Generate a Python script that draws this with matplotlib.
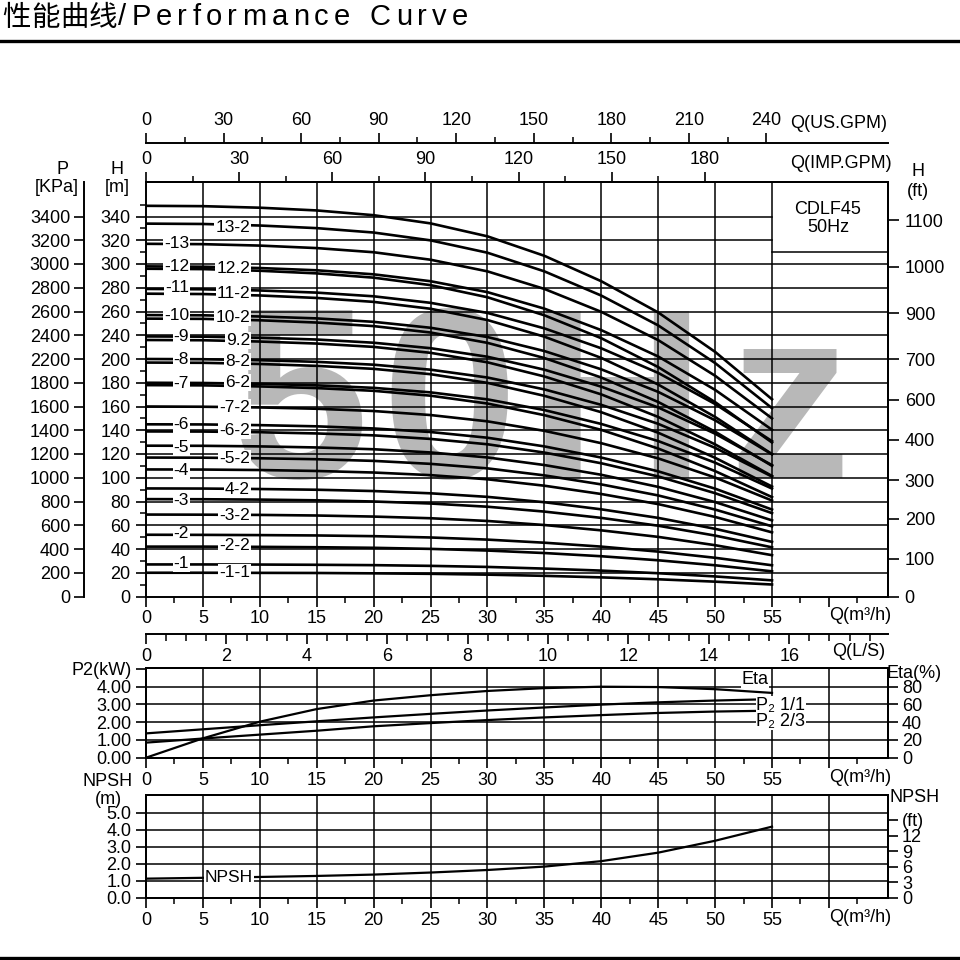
import matplotlib
matplotlib.use('Agg')
import matplotlib.pyplot as plt
from matplotlib.lines import Line2D
import numpy as np

plt.rcParams['font.family'] = ['Liberation Sans', 'DejaVu Sans']
plt.rcParams['axes.linewidth'] = 1.4

# ---------------- data (head values in chart position units of the H axis) ----------------
q_head = [0, 5, 10, 15, 20, 25, 30, 35, 40, 45, 50, 55]
h_top  = [329, 328.7, 327.4, 325.1, 321.1, 314.2, 303.3, 286.9, 265.5, 239.2, 206.0, 166.1]
h_13_2 = [314, 313.7, 312.4, 310.2, 306.5, 299.9, 289.5, 273.8, 253.4, 228.3, 196.6, 158.6]
h_13   = [297, 296.7, 295.5, 293.4, 289.9, 283.6, 273.8, 259.0, 239.7, 215.9, 185.9, 150.0]
h_12   = [278, 277.7, 276.6, 274.7, 271.3, 265.5, 256.3, 242.4, 224.3, 202.1, 174.0, 140.4]
h_12_2 = [276, 275.7, 274.3, 272.1, 268.5, 262.2, 252.0, 236.8, 217.5, 193.2, 163.7, 129.7]
h_11   = [259, 258.7, 257.7, 255.9, 252.8, 247.3, 238.8, 225.8, 209.0, 188.3, 162.1, 130.8]
h_11_2 = [255, 254.7, 253.5, 251.4, 248.1, 242.3, 232.8, 218.8, 200.9, 178.5, 151.2, 119.9]
h_10   = [237, 236.8, 235.8, 234.2, 231.3, 226.3, 218.5, 206.7, 191.3, 172.3, 148.4, 119.7]
h_10_2 = [234, 233.8, 232.6, 230.7, 227.7, 222.3, 213.6, 200.8, 184.4, 163.8, 138.8, 110.0]
h_9    = [219, 218.8, 217.9, 216.4, 213.7, 209.1, 201.9, 191.0, 176.7, 159.2, 137.1, 110.6]
h_9_2  = [216, 215.8, 214.7, 213.0, 210.2, 205.2, 197.2, 185.3, 170.2, 151.2, 128.1, 101.5]
h_8    = [200, 199.8, 199.0, 197.6, 195.2, 191.0, 184.4, 174.4, 161.4, 145.4, 125.2, 101.0]
h_8_2  = [197, 196.8, 195.8, 194.2, 191.7, 187.2, 179.9, 169.0, 155.2, 137.9, 116.8, 92.6]
h_7    = [180, 179.8, 179.1, 177.8, 175.7, 171.9, 166.0, 157.0, 145.3, 130.9, 112.7, 90.9]
h_6_2a = [178, 177.8, 176.9, 175.5, 173.2, 169.1, 162.5, 152.7, 140.3, 124.6, 105.6, 83.7]
h_7_2  = [160, 159.8, 159.2, 158.1, 156.2, 152.8, 147.5, 139.5, 129.1, 116.3, 100.2, 80.8]
h_6    = [145, 144.9, 144.3, 143.3, 141.5, 138.5, 133.7, 126.4, 117.0, 105.4, 90.8, 73.2]
h_6_2  = [139, 138.9, 138.3, 137.3, 135.7, 132.7, 128.2, 121.2, 112.2, 101.1, 87.0, 70.2]
h_5    = [127, 126.9, 126.4, 125.5, 124.0, 121.3, 117.1, 110.7, 102.5, 92.3, 79.5, 64.1]
h_5_2  = [117, 116.9, 116.4, 115.6, 114.2, 111.7, 107.9, 102.0, 94.4, 85.1, 73.2, 59.1]
h_4    = [107, 106.9, 106.5, 105.7, 104.4, 102.2, 98.7, 93.3, 86.3, 77.8, 67.0, 54.0]
h_4_2  = [91, 90.9, 90.5, 89.9, 88.8, 86.9, 83.9, 79.4, 73.4, 66.2, 57.0, 46.0]
h_3    = [82, 81.9, 81.6, 81.0, 80.0, 78.3, 75.6, 71.5, 66.2, 59.6, 51.3, 41.4]
h_3_2  = [69, 68.9, 68.7, 68.2, 67.3, 65.9, 63.6, 60.2, 55.7, 50.2, 43.2, 34.8]
h_2    = [52, 51.9, 51.7, 51.4, 50.8, 49.7, 47.9, 45.3, 42.0, 37.8, 32.6, 26.3]
h_2_2  = [42, 42.0, 41.8, 41.5, 41.0, 40.1, 38.7, 36.6, 33.9, 30.5, 26.3, 21.2]
h_1    = [27, 27.0, 26.9, 26.7, 26.4, 25.8, 24.9, 23.5, 21.8, 19.6, 16.9, 13.6]
h_1_1  = [20, 20.0, 19.9, 19.8, 19.5, 19.1, 18.4, 17.4, 16.1, 14.5, 12.5, 10.1]

left_labels = ["-13", "-12", "-11", "-10", "-9", "-8", "-7", "-6", "-5", "-4", "-3", "-2", "-1"]
mid_labels = ["13-2", "12.2", "11-2", "10-2", "9.2", "8-2", "6-2", "-7-2", "-6-2", "-5-2",
              "4-2", "-3-2", "-2-2", "-1-1"]

h_tick_pos = list(range(0, 321, 20))
h_tick_labels = ["0", "20", "40", "60", "80", "100", "120", "140", "160", "180", "200",
                 "240", "260", "280", "300", "320", "340"]
p_tick_labels = ["0", "200", "400", "600", "800", "1000", "1200", "1400", "1600", "1800",
                 "2200", "2400", "2600", "2800", "3000", "3200", "3400"]
ft_tick_pos = [0, 31.6, 65.3, 98.1, 131.8, 165.5, 200, 238.7, 277.5, 317]
ft_tick_labels = ["0", "100", "200", "300", "400", "600", "700", "900", "1000", "1100"]

q_perf = [0, 5, 10, 15, 20, 25, 30, 35, 40, 45, 50, 55]
eta_pct = [0, 21.8, 40.6, 54.8, 64.4, 70.4, 75.2, 78.4, 80.0, 79.6, 77.2, 73.0]
p2_full = [1.37, 1.60, 1.83, 2.05, 2.27, 2.47, 2.66, 2.83, 2.99, 3.12, 3.22, 3.30]
p2_two3 = [0.85, 1.08, 1.30, 1.52, 1.77, 1.95, 2.12, 2.27, 2.40, 2.52, 2.60, 2.65]
npsh_m = [1.12, 1.17, 1.22, 1.28, 1.36, 1.48, 1.63, 1.83, 2.15, 2.65, 3.35, 4.18]

# ---------------- layout helpers ----------------
FP = 960.0
def fx(px): return px / FP
def fy(py): return 1 - py / FP

X0, X1 = 146, 888
QPX = 11.382
QMAX = (X1 - X0) / QPX
HPX = 1.1875
BLACK = 'k'

fig = plt.figure(figsize=(9.6, 9.6), dpi=100)

def ftext(x, y, s, size=13, ha='left', va='center', **kw):
    return fig.text(fx(x), fy(y), s, fontsize=size, ha=ha, va=va, **kw)

# ---------------- main panel ----------------
M_TOP, M_BOT = 182, 596.5
ax = fig.add_axes([fx(X0), fy(M_BOT), fx(X1 - X0), (M_BOT - M_TOP) / FP])
ax.set_xlim(0, QMAX)
ax.set_ylim(0, (M_BOT - M_TOP) / HPX)
ax.patch.set_alpha(0)

for g in range(20, 281, 20):
    ax.axhline(g, color=BLACK, lw=1.1, zorder=1)
for g in (300, 320):
    ax.axhline(g, xmax=55 / QMAX, color=BLACK, lw=1.1, zorder=1)
for q in range(5, 56, 5):
    ax.axvline(q, color=BLACK, lw=1.1, zorder=1)
ax.axhline((M_BOT - 252) / HPX, xmin=55 / QMAX, color=BLACK, lw=1.1, zorder=1)

# watermark
for ch, xc in zip("50Hz", [300, 449, 617, 789]):
    ax.text(fx(xc), fy(478), ch, transform=fig.transFigure, fontsize=176,
            fontweight='bold', color='#b8b8b8', ha='center', va='baseline', zorder=0.5)

curves = [h_top, h_13_2, h_13, h_12, h_12_2, h_11, h_11_2, h_10, h_10_2, h_9, h_9_2,
          h_8, h_8_2, h_7, h_6_2a, h_7_2, h_6, h_6_2, h_5, h_5_2, h_4, h_4_2, h_3, h_3_2,
          h_2, h_2_2, h_1, h_1_1]
for c in curves:
    ax.plot(q_head, c, color=BLACK, lw=1.9, zorder=3, solid_joinstyle='round')

ax.set_xticks(range(0, 61, 5), [str(v) for v in range(0, 56, 5)] + [""])
ax.set_xticks(np.arange(0, 63, 2.5), minor=True)
ax.set_yticks(h_tick_pos, h_tick_labels)
ax.set_yticks(range(10, 331, 10), minor=True)
ax.tick_params(axis='both', which='major', direction='out', length=7, width=1.2, labelsize=13)
ax.tick_params(axis='x', which='major', pad=3)
ax.tick_params(axis='y', which='major', pad=4)
ax.tick_params(axis='both', which='minor', direction='out', length=4, width=1.1)

# P axis
axp = fig.add_axes([fx(84), fy(M_BOT), 1e-6, (M_BOT - M_TOP) / FP])
axp.set_ylim(ax.get_ylim())
axp.patch.set_alpha(0)
for s in ['top', 'bottom', 'right']:
    axp.spines[s].set_visible(False)
axp.set_xticks([])
axp.set_yticks(h_tick_pos, p_tick_labels)
axp.tick_params(axis='y', direction='out', length=7, width=1.2, labelsize=13, pad=3)

# ft axis
axf = fig.add_axes([fx(X1), fy(M_BOT), 1e-6, (M_BOT - M_TOP) / FP])
axf.set_ylim(ax.get_ylim())
axf.patch.set_alpha(0)
for s in ['top', 'bottom', 'left']:
    axf.spines[s].set_visible(False)
axf.set_xticks([])
axf.yaxis.tick_right()
axf.set_yticks(ft_tick_pos, ft_tick_labels)
axf.tick_params(axis='y', direction='out', length=8, width=1.2, labelsize=13, pad=4)

def hline_axis(y_px, factor, major, minor, labels, side, maj_len=7, min_len=4.5, pad=3):
    a = fig.add_axes([fx(X0), fy(y_px), fx(X1 - X0), 1e-6])
    a.set_xlim(0, QMAX / factor)
    a.patch.set_alpha(0)
    for s in ['left', 'right', 'top', 'bottom']:
        a.spines[s].set_visible(s == side)
    a.set_yticks([])
    if side == 'top':
        a.xaxis.tick_top()
    else:
        a.xaxis.tick_bottom()
    a.set_xticks(major, labels)
    a.set_xticks(minor, minor=True)
    a.tick_params(axis='x', which='major', direction='out', length=maj_len, width=1.2,
                  labelsize=13, pad=pad)
    a.tick_params(axis='x', which='minor', direction='out', length=min_len, width=1.1)
    return a

# US GPM axis, IMP GPM axis (on main top), L/S axis
hline_axis(142.7, 1 / 4.403, list(range(0, 241, 30)), list(range(0, 241, 15)),
           [str(v) for v in range(0, 241, 30)], 'top')
hline_axis(M_TOP, 1 / 3.666, list(range(0, 181, 30)), list(range(0, 181, 15)),
           [str(v) for v in range(0, 181, 30)], 'top')
hline_axis(634, 3.532, list(range(0, 17, 2)), list(np.arange(0, 18.1, 0.5)),
           [str(v) for v in range(0, 17, 2)], 'bottom', maj_len=7, min_len=5)

# labels on curves
left_y = [243.3, 266.7, 287.3, 316, 336.7, 360, 383.3, 425, 447.3, 470.7, 500, 534, 564]
mid_y = [227.7, 268.3, 294, 317.7, 340.7, 361.7, 382.7, 407.3, 430.7, 458.3, 489, 515.7,
         545.7, 572.3]
bb = dict(facecolor='white', edgecolor='none', pad=0.6)
for s, y in zip(left_labels, left_y):
    ftext(189, y, s, size=12.5, ha='right', bbox=bb, zorder=5)
for s, y in zip(mid_labels, mid_y):
    ftext(250, y, s, size=12.5, ha='right', bbox=bb, zorder=5)

# axis titles
ftext(62, 170, "P", ha='center')
ftext(57, 188, "[KPa]", ha='center')
ftext(117, 170, "H", ha='center')
ftext(117, 188, "[m]", ha='center')
ftext(918, 172, "H", ha='center')
ftext(918, 192, "(ft)", ha='center')
ftext(790, 124, "Q(US.GPM)")
ftext(790, 163, "Q(IMP.GPM)")
ftext(829, 615, "Q(m³/h)")
ftext(832, 652, "Q(L/S)")
ftext(828, 209, "CDLF45", ha='center')
ftext(828, 228, "50Hz", ha='center')

# ---------------- P2 / Eta panel ----------------
P_TOP, P_BOT = 668.3, 757.7
ax2 = fig.add_axes([fx(X0), fy(P_BOT), fx(X1 - X0), (P_BOT - P_TOP) / FP])
ax2.set_xlim(0, QMAX)
ax2.set_ylim(0, (P_BOT - P_TOP) / 17.75)
for g in range(1, 5):
    ax2.axhline(g, color=BLACK, lw=1.1, zorder=1)
for q in range(5, 61, 5):
    ax2.axvline(q, color=BLACK, lw=1.1, zorder=1)
ax2.plot(q_perf, p2_full, color=BLACK, lw=1.6, zorder=3)
ax2.plot(q_perf, p2_two3, color=BLACK, lw=1.6, zorder=3)
ax2.set_xticks(range(0, 61, 5), [str(v) for v in range(0, 56, 5)] + [""])
ax2.set_xticks(np.arange(0, 63, 2.5), minor=True)
ax2.set_yticks([0, 1, 2, 3, 4, 5], ["0.00", "1.00", "2.00", "3.00", "4.00", "P2(kW)"])
ax2.tick_params(axis='both', which='major', direction='out', length=7, width=1.2, labelsize=13)
ax2.tick_params(axis='x', which='major', pad=3)
ax2.tick_params(axis='x', which='minor', direction='out', length=4, width=1.1)
ax2r = ax2.twinx()
ax2r.set_ylim(0, ax2.get_ylim()[1] * 20)
ax2r.plot(q_perf, eta_pct, color=BLACK, lw=1.6, zorder=3)
ax2r.set_yticks([0, 20, 40, 60, 80])
ax2r.tick_params(axis='y', direction='out', length=7, width=1.2, labelsize=13, pad=3)
ftext(887, 673, "Eta(%)")
ftext(829, 778, "Q(m³/h)")
ftext(755, 680, "Eta", ha='center', bbox=bb, zorder=6)
ftext(781, 705, "P₂ 1/1", ha='center', bbox=bb, zorder=6)
ftext(781, 721, "P₂ 2/3", ha='center', bbox=bb, zorder=6)

# ---------------- NPSH panel ----------------
N_TOP, N_BOT = 795, 897.7
ax3 = fig.add_axes([fx(X0), fy(N_BOT), fx(X1 - X0), (N_BOT - N_TOP) / FP])
ax3.set_xlim(0, QMAX)
ax3.set_ylim(0, (N_BOT - N_TOP) / 17.0)
for g in range(1, 6):
    ax3.axhline(g, color=BLACK, lw=1.1, zorder=1)
for q in range(5, 61, 5):
    ax3.axvline(q, color=BLACK, lw=1.1, zorder=1)
ax3.plot(q_perf, npsh_m, color=BLACK, lw=1.6, zorder=3)
ax3.set_xticks(range(0, 61, 5), [str(v) for v in range(0, 56, 5)] + [""])
ax3.set_xticks(np.arange(0, 63, 2.5), minor=True)
ax3.set_yticks([0, 1, 2, 3, 4, 5], ["0.0", "1.0", "2.0", "3.0", "4.0", "5.0"])
ax3.tick_params(axis='both', which='major', direction='out', length=7, width=1.2, labelsize=13)
ax3.tick_params(axis='x', which='major', pad=3)
ax3.tick_params(axis='x', which='minor', direction='out', length=4, width=1.1)
ax3r = ax3.twinx()
ax3r.set_ylim(0, ax3.get_ylim()[1] * 3.28084)
ax3r.set_yticks([0, 3, 6, 9, 12, 15], ["0", "3", "6", "9", "12", "(ft)"])
ax3r.tick_params(axis='y', direction='out', length=7, width=1.2, labelsize=13, pad=3)
ftext(108, 782, "NPSH", ha='center')
ftext(108, 800, "(m)", ha='center')
ftext(915, 798, "NPSH", ha='center')
ftext(829, 917, "Q(m³/h)")
ftext(229, 877, "NPSH", size=12.5, ha='center', bbox=bb, zorder=6)

# ---------------- title and frame lines ----------------
fig.add_artist(Line2D([0, 1], [fy(40.5), fy(40.5)], transform=fig.transFigure, color=BLACK, lw=2.4))
fig.add_artist(Line2D([0, 1], [fy(957.5), fy(957.5)], transform=fig.transFigure, color=BLACK, lw=2.4))

cjk = ['Noto Sans CJK SC', 'DejaVu Sans']
for i, ch in enumerate("性能曲线"):
    ftext(2 + i * 29, 26, ch, size=20.5, va='baseline', family=cjk)
renderer = fig.canvas.get_renderer()
latin = "/Performance Curve"
arts, widths = [], []
for ch in latin:
    if ch == ' ':
        arts.append(None); widths.append(9.0)
        continue
    t = ftext(0, 25, ch, size=21, va='baseline')
    arts.append(t)
    widths.append(t.get_window_extent(renderer=renderer).width)
start, end = 118, 468
gap = (end - start - sum(widths)) / (len(latin) - 1)
xcur = start
for t, w in zip(arts, widths):
    if t is not None:
        t.set_x(fx(xcur))
    xcur += w + gap

fig.savefig('out.png', dpi=100)
